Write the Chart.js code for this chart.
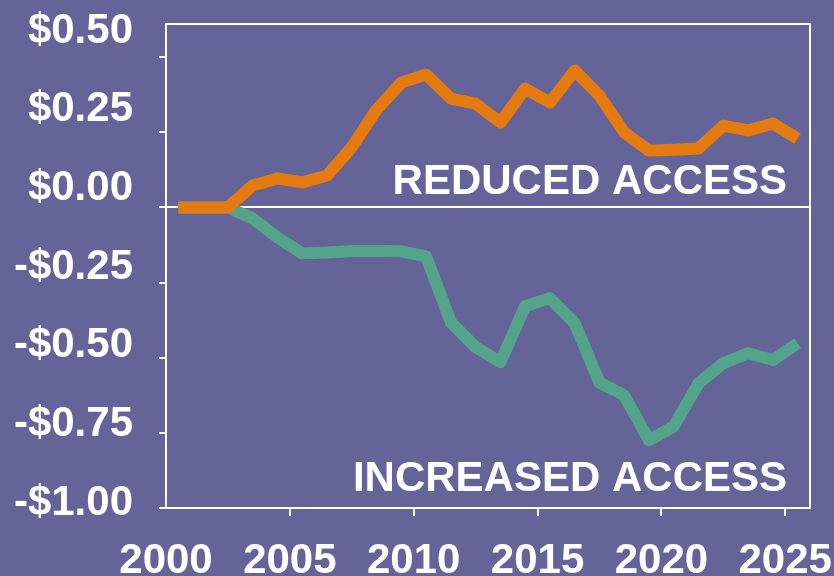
<!DOCTYPE html>
<html>
<head>
<meta charset="utf-8">
<script src="https://cdn.jsdelivr.net/npm/chart.js@4"></script>
<style>
  html, body { margin: 0; padding: 0; background: #656499; }
  #wrap { width: 834px; height: 576px; position: relative; }
</style>
</head>
<body>
<div id="wrap"><canvas id="accessChart"></canvas></div>
<script>
// Data (one value per year, drawn at mid-year)
const years = [2000, 2001, 2002, 2003, 2004, 2005, 2006, 2007, 2008, 2009, 2010, 2011, 2012,
               2013, 2014, 2015, 2016, 2017, 2018, 2019, 2020, 2021, 2022, 2023, 2024, 2025];
const reducedAccess = [0, 0, 0, 0.073, 0.096, 0.083, 0.106, 0.20, 0.325, 0.415, 0.442, 0.362, 0.345,
                       0.282, 0.395, 0.349, 0.455, 0.372, 0.249, 0.189, 0.192, 0.196, 0.272, 0.256, 0.279, 0.229];
const increasedAccess = [0, 0, 0, -0.037, -0.10, -0.153, -0.15, -0.145, -0.145, -0.146, -0.163, -0.382, -0.465,
                         -0.515, -0.329, -0.302, -0.385, -0.583, -0.625, -0.775, -0.728, -0.585, -0.518, -0.485, -0.508, -0.452];

const xTickValues = [2000, 2005, 2010, 2015, 2020, 2025];
const yTickValues = [-1, -0.75, -0.5, -0.25, 0, 0.25, 0.5];
const yTickLabels = ['-$1.00', '-$0.75', '-$0.50', '-$0.25', '$0.00', '$0.25', '$0.50'];

const reducedLabel = 'REDUCED ACCESS';
const increasedLabel = 'INCREASED ACCESS';

const WHITE = '#ffffff';
const FONT = '"Liberation Sans", Arial, sans-serif';

// white frame round the plot area (top and right sides)
const framePlugin = {
    id: 'frame',
    beforeDatasetsDraw(chart) {
        const { ctx, chartArea: a } = chart;
        ctx.save();
        ctx.strokeStyle = WHITE;
        ctx.lineWidth = 2;
        ctx.beginPath();
        ctx.moveTo(a.left, a.top);
        ctx.lineTo(a.right, a.top);
        ctx.lineTo(a.right, a.bottom);
        ctx.stroke();
        ctx.restore();
    }
};

// the two text labels inside the plot
const areaLabels = {
    id: 'areaLabels',
    afterDatasetsDraw(chart) {
        const { ctx, chartArea: a } = chart;
        ctx.save();
        ctx.fillStyle = WHITE;
        ctx.font = 'bold 42px ' + FONT;
        ctx.textAlign = 'right';
        ctx.textBaseline = 'middle';
        ctx.fillText(reducedLabel, a.right - 23, a.top + 158);
        ctx.fillText(increasedLabel, a.right - 23, a.bottom - 29);
        ctx.restore();
    }
};

// let the layout padding alone decide the plot edges
function noScalePadding(scale) {
    scale.paddingTop = 0;
    scale.paddingBottom = 0;
    scale.paddingLeft = 0;
    scale.paddingRight = 0;
}

new Chart(document.getElementById('accessChart'), {
    type: 'line',
    data: {
        datasets: [
            {
                label: reducedLabel,
                data: years.map((yr, i) => ({ x: yr + 0.5, y: reducedAccess[i] })),
                borderColor: '#e47a10',
                borderWidth: 12,
                borderCapStyle: 'butt',
                borderJoinStyle: 'round',
                pointRadius: 0,
                tension: 0
            },
            {
                label: increasedLabel,
                data: years.map((yr, i) => ({ x: yr + 0.5, y: increasedAccess[i] })),
                borderColor: '#54a38b',
                borderWidth: 12,
                borderCapStyle: 'butt',
                borderJoinStyle: 'round',
                pointRadius: 0,
                tension: 0
            }
        ]
    },
    options: {
        responsive: true,
        maintainAspectRatio: false,
        animation: false,
        layout: { padding: { top: 24, right: 24, left: 0, bottom: 0 } },
        plugins: {
            legend: { display: false },
            tooltip: { enabled: false }
        },
        scales: {
            x: {
                type: 'linear',
                min: 2000,
                max: 2026,
                afterBuildTicks: scale => { scale.ticks = xTickValues.map(v => ({ value: v })); },
                afterFit: scale => { scale.height = 68; noScalePadding(scale); },
                border: { color: WHITE, width: 2 },
                grid: {
                    drawOnChartArea: false,
                    tickLength: 8,
                    lineWidth: 2,
                    tickColor: c => (c.tick && c.tick.value === 2000) ? 'transparent' : WHITE
                },
                ticks: {
                    color: WHITE,
                    padding: 20,
                    maxRotation: 0,
                    autoSkip: false,
                    font: { family: FONT, size: 42, weight: 'bold' },
                    callback: v => String(v)
                }
            },
            y: {
                min: -1,
                max: 0.61,
                afterBuildTicks: scale => { scale.ticks = yTickValues.map(v => ({ value: v })); },
                afterFit: scale => { scale.width = 7; noScalePadding(scale); },
                border: { color: WHITE, width: 2 },
                grid: {
                    lineWidth: 2,
                    tickLength: 7,
                    color: c => (c.tick && c.tick.value === 0) ? WHITE : 'transparent',
                    tickColor: WHITE
                },
                ticks: { display: false }
            },
            yLabels: {
                position: 'left',
                weight: 1,
                min: -1.016,
                max: 0.522,
                afterBuildTicks: scale => { scale.ticks = yTickValues.map(v => ({ value: v })); },
                afterFit: scale => { scale.width = 159; noScalePadding(scale); },
                border: { display: false },
                grid: { display: false, drawTicks: false },
                ticks: {
                    color: WHITE,
                    padding: 26,
                    font: { family: FONT, size: 42, weight: 'bold' },
                    callback: v => yTickLabels[yTickValues.indexOf(v)]
                }
            }
        }
    },
    plugins: [framePlugin, areaLabels]
});
</script>
</body>
</html>
